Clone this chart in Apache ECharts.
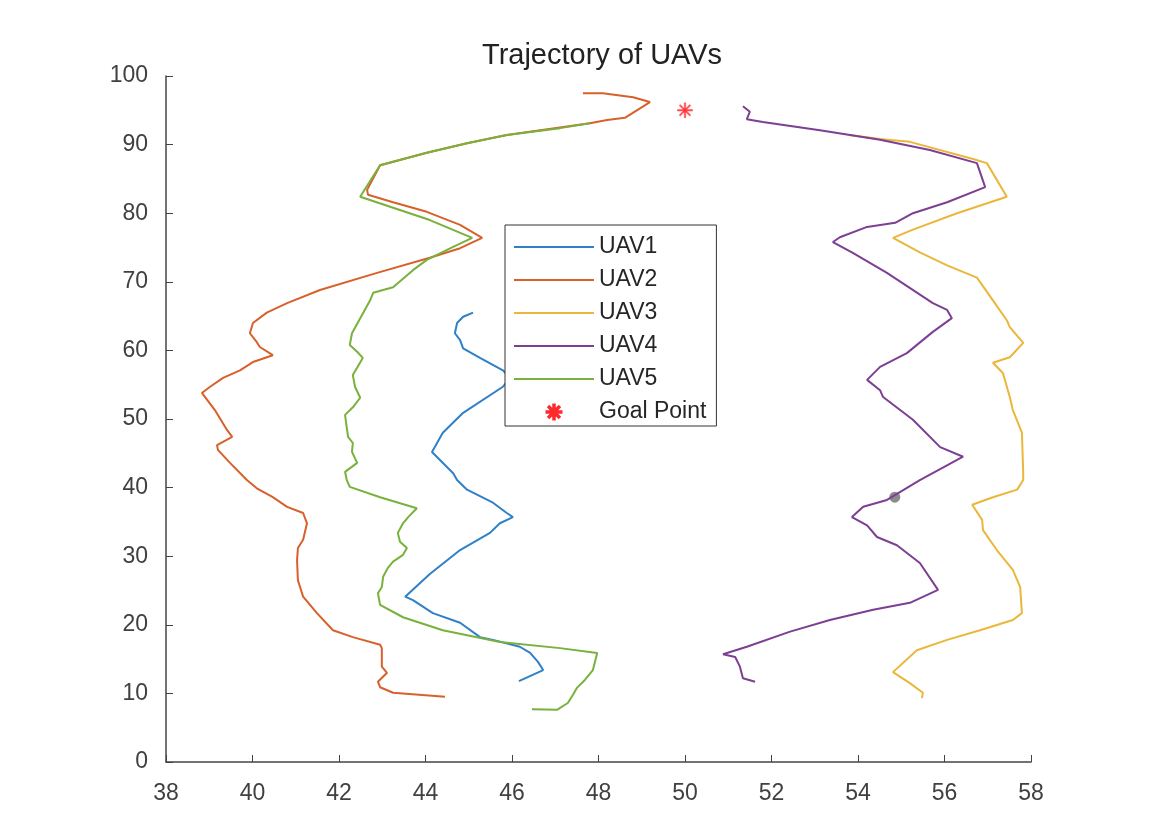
<!DOCTYPE html>
<html>
<head>
<meta charset="utf-8">
<title>Trajectory of UAVs</title>
<script src="https://cdn.jsdelivr.net/npm/echarts@6/dist/echarts.min.js"></script>
<style>
  html, body { margin: 0; padding: 0; background: #fff; }
  #main { width: 1170px; height: 818px; }
</style>
</head>
<body>
<div id="main"></div>
<script>
// trajectories, [x, y]
var uav1 = [[46.16,11.8],[46.72,13.4],[46.60,14.6],[46.42,15.9],[46.18,16.8],[45.56,17.8],[45.26,18.2],[44.80,20.3],[44.17,21.7],[43.71,23.6],[43.53,24.1],[44.10,27.4],[44.80,30.9],[45.49,33.4],[45.72,34.8],[46.02,35.7],[45.88,36.3],[45.56,37.8],[44.96,39.7],[44.73,41.1],[44.64,42.1],[44.15,45.2],[44.40,48.0],[44.87,50.9],[45.79,54.7],[45.95,56.0],[45.79,57.1],[45.26,58.9],[44.87,60.3],[44.80,61.5],[44.68,62.5],[44.73,64.0],[44.87,64.9],[45.10,65.5]];
var uav2 = [[44.45,9.5],[43.25,10.1],[42.95,10.9],[42.90,11.7],[43.11,13.0],[42.99,13.9],[42.99,16.6],[42.95,17.1],[42.32,18.2],[41.86,19.2],[41.49,21.7],[41.17,24.1],[41.05,26.5],[41.03,29.4],[41.05,31.2],[41.17,32.4],[41.26,34.8],[41.17,36.3],[40.80,37.2],[40.47,38.6],[40.10,39.9],[39.87,41.1],[39.48,43.6],[39.20,45.5],[39.18,46.2],[39.53,47.4],[39.41,48.4],[39.13,51.3],[38.83,53.8],[39.02,54.7],[39.32,56.0],[39.71,57.1],[40.01,58.3],[40.47,59.3],[40.17,60.5],[40.10,61.2],[39.94,62.5],[40.01,64.0],[40.33,65.5],[40.80,66.9],[41.56,68.8],[42.88,71.3],[44.10,73.5],[44.80,74.9],[45.31,76.4],[44.80,78.3],[44.03,80.2],[43.25,81.6],[42.67,82.7],[42.65,83.4],[42.95,87.0],[44.03,88.8],[44.96,90.2],[45.88,91.4],[47.80,93.1],[48.20,93.6],[48.61,93.9],[49.19,96.2],[48.80,96.9],[48.10,97.5],[47.64,97.5]];
var uav3 = [[55.48,9.3],[55.50,10.1],[55.20,11.5],[54.81,13.1],[55.36,16.3],[56.06,17.8],[56.82,19.2],[57.58,20.7],[57.79,21.7],[57.75,25.5],[57.58,28.0],[57.21,30.9],[56.89,33.8],[56.87,35.3],[56.64,37.5],[57.12,38.6],[57.68,39.7],[57.82,41.1],[57.82,42.1],[57.79,48.0],[57.58,51.3],[57.51,53.2],[57.35,56.7],[57.12,58.2],[57.51,59.0],[57.82,61.1],[57.51,63.4],[57.44,64.4],[57.12,67.3],[56.75,70.6],[56.06,72.4],[55.43,74.3],[54.81,76.4],[55.27,77.6],[56.29,80.0],[57.44,82.4],[56.98,87.3],[56.66,87.9],[55.20,90.4],[54.51,90.8],[53.80,91.4]];
var uav4 = [[51.62,11.7],[51.34,12.2],[51.27,13.9],[51.16,15.3],[50.88,15.7],[51.43,16.8],[52.43,19.0],[53.35,20.7],[54.35,22.2],[55.20,23.2],[55.85,25.1],[55.43,29.0],[54.90,31.6],[54.44,32.8],[54.21,34.5],[53.86,35.7],[54.12,37.2],[54.67,38.2],[55.43,41.1],[56.43,44.5],[55.90,45.9],[55.27,49.9],[54.58,53.2],[54.51,54.2],[54.21,55.7],[54.51,57.6],[55.13,59.6],[55.73,62.7],[56.17,64.7],[56.06,65.9],[55.73,66.9],[54.67,71.3],[53.88,74.2],[53.42,75.8],[53.58,76.5],[54.21,78.0],[54.86,78.6],[55.27,80.0],[56.06,81.6],[56.94,83.8],[56.75,87.3],[55.66,89.2],[54.51,90.7],[53.12,92.1],[51.80,93.3],[51.43,93.7],[51.50,94.8],[51.34,95.6]];
var uav5 = [[46.46,7.7],[47.04,7.6],[47.29,8.6],[47.41,9.8],[47.50,10.8],[47.69,12.0],[47.87,13.4],[47.97,15.9],[47.11,16.6],[45.72,17.5],[44.40,19.2],[43.48,21.1],[42.95,22.9],[42.90,24.6],[42.99,25.5],[43.02,27.0],[43.13,28.3],[43.25,29.2],[43.48,30.2],[43.57,31.2],[43.41,32.1],[43.36,33.4],[43.48,34.8],[43.60,35.7],[43.80,37.0],[42.95,38.6],[42.25,40.1],[42.18,41.1],[42.14,42.3],[42.42,43.6],[42.30,45.2],[42.32,46.5],[42.21,47.4],[42.18,48.7],[42.14,50.6],[42.32,51.7],[42.49,53.1],[42.37,54.7],[42.32,56.4],[42.55,58.9],[42.42,59.8],[42.25,60.8],[42.30,62.5],[42.72,67.3],[42.79,68.4],[43.25,69.2],[43.71,71.7],[44.03,73.2],[44.64,75.1],[45.08,76.4],[44.10,79.0],[42.49,82.4],[42.95,87.0],[44.03,88.8],[44.96,90.2],[45.88,91.4],[47.11,92.4],[47.80,93.1]];
var goal = [[50, 95]];
var dot = [[54.85, 38.6]];

var names = ['UAV1', 'UAV2', 'UAV3', 'UAV4', 'UAV5'];
var colors = ['#2f80c8', '#d8602a', '#ebb73a', '#7d3f92', '#78b13c'];
var tracks = [uav1, uav2, uav3, uav4, uav5];

// matlab style '*' marker
var asterisk = 'path://M0 9L20 9L20 11L0 11Z M9 0L11 0L11 20L9 20Z ' +
  'M3.71 2.29L17.71 16.29L16.29 17.71L2.29 3.71Z M17.71 3.71L3.71 17.71L2.29 16.29L16.29 2.29Z';

var chart = echarts.init(document.getElementById('main'));

var series = [];
for (var i = 0; i < tracks.length; i++) {
  series.push({
    name: names[i],
    type: 'line',
    data: tracks[i],
    symbol: 'none',
    lineStyle: { width: 2, color: colors[i] },
    itemStyle: { color: colors[i] }
  });
}
series.push({
  name: 'Goal Point',
  type: 'scatter',
  data: goal,
  symbol: asterisk,
  symbolSize: 15,
  itemStyle: { color: '#ff2a2a', borderColor: '#ff2a2a', borderWidth: 0.5 }
});
series.push({
  name: 'marker',
  type: 'scatter',
  data: dot,
  symbolSize: 11,
  itemStyle: { color: '#6f6f6f' }
});

var legendData = names.map(function (n) {
  return { name: n };
});
legendData.push({ name: 'Goal Point', icon: asterisk, itemStyle: { opacity: 1 } });

var axisText = { color: '#404040', fontSize: 23, fontFamily: 'Liberation Sans' };

var option = {
  animation: false,
  backgroundColor: '#fff',
  title: {
    text: 'Trajectory of UAVs',
    left: 477,
    top: 36,
    textStyle: { color: '#222', fontSize: 29, fontWeight: 'normal', fontFamily: 'Liberation Sans' }
  },
  legend: {
    orient: 'vertical',
    left: 505,
    top: 225,
    padding: [10, 10, 2, 8],
    itemWidth: 80,
    itemHeight: 15,
    itemGap: 9,
    backgroundColor: '#fff',
    borderColor: '#333',
    borderWidth: 1,
    itemStyle: { opacity: 0 },
    data: legendData,
    textStyle: { color: '#262626', fontSize: 23, lineHeight: 24, fontFamily: 'Liberation Sans' }
  },
  grid: { left: 166, right: 139, top: 76, bottom: 56 },
  xAxis: {
    type: 'value',
    min: 38,
    max: 58,
    interval: 2,
    axisLine: { lineStyle: { color: '#444', width: 1.5 } },
    axisTick: { inside: true, length: 7, lineStyle: { color: '#444' } },
    axisLabel: Object.assign({ margin: 20 }, axisText),
    splitLine: { show: false }
  },
  yAxis: {
    type: 'value',
    min: 0,
    max: 100,
    interval: 10,
    axisLine: { show: true, lineStyle: { color: '#444', width: 1.5 } },
    axisTick: { show: true, inside: true, length: 7, lineStyle: { color: '#444' } },
    axisLabel: Object.assign({ margin: 18 }, axisText),
    splitLine: { show: false }
  },
  series: series
};

chart.setOption(option);
</script>
</body>
</html>
